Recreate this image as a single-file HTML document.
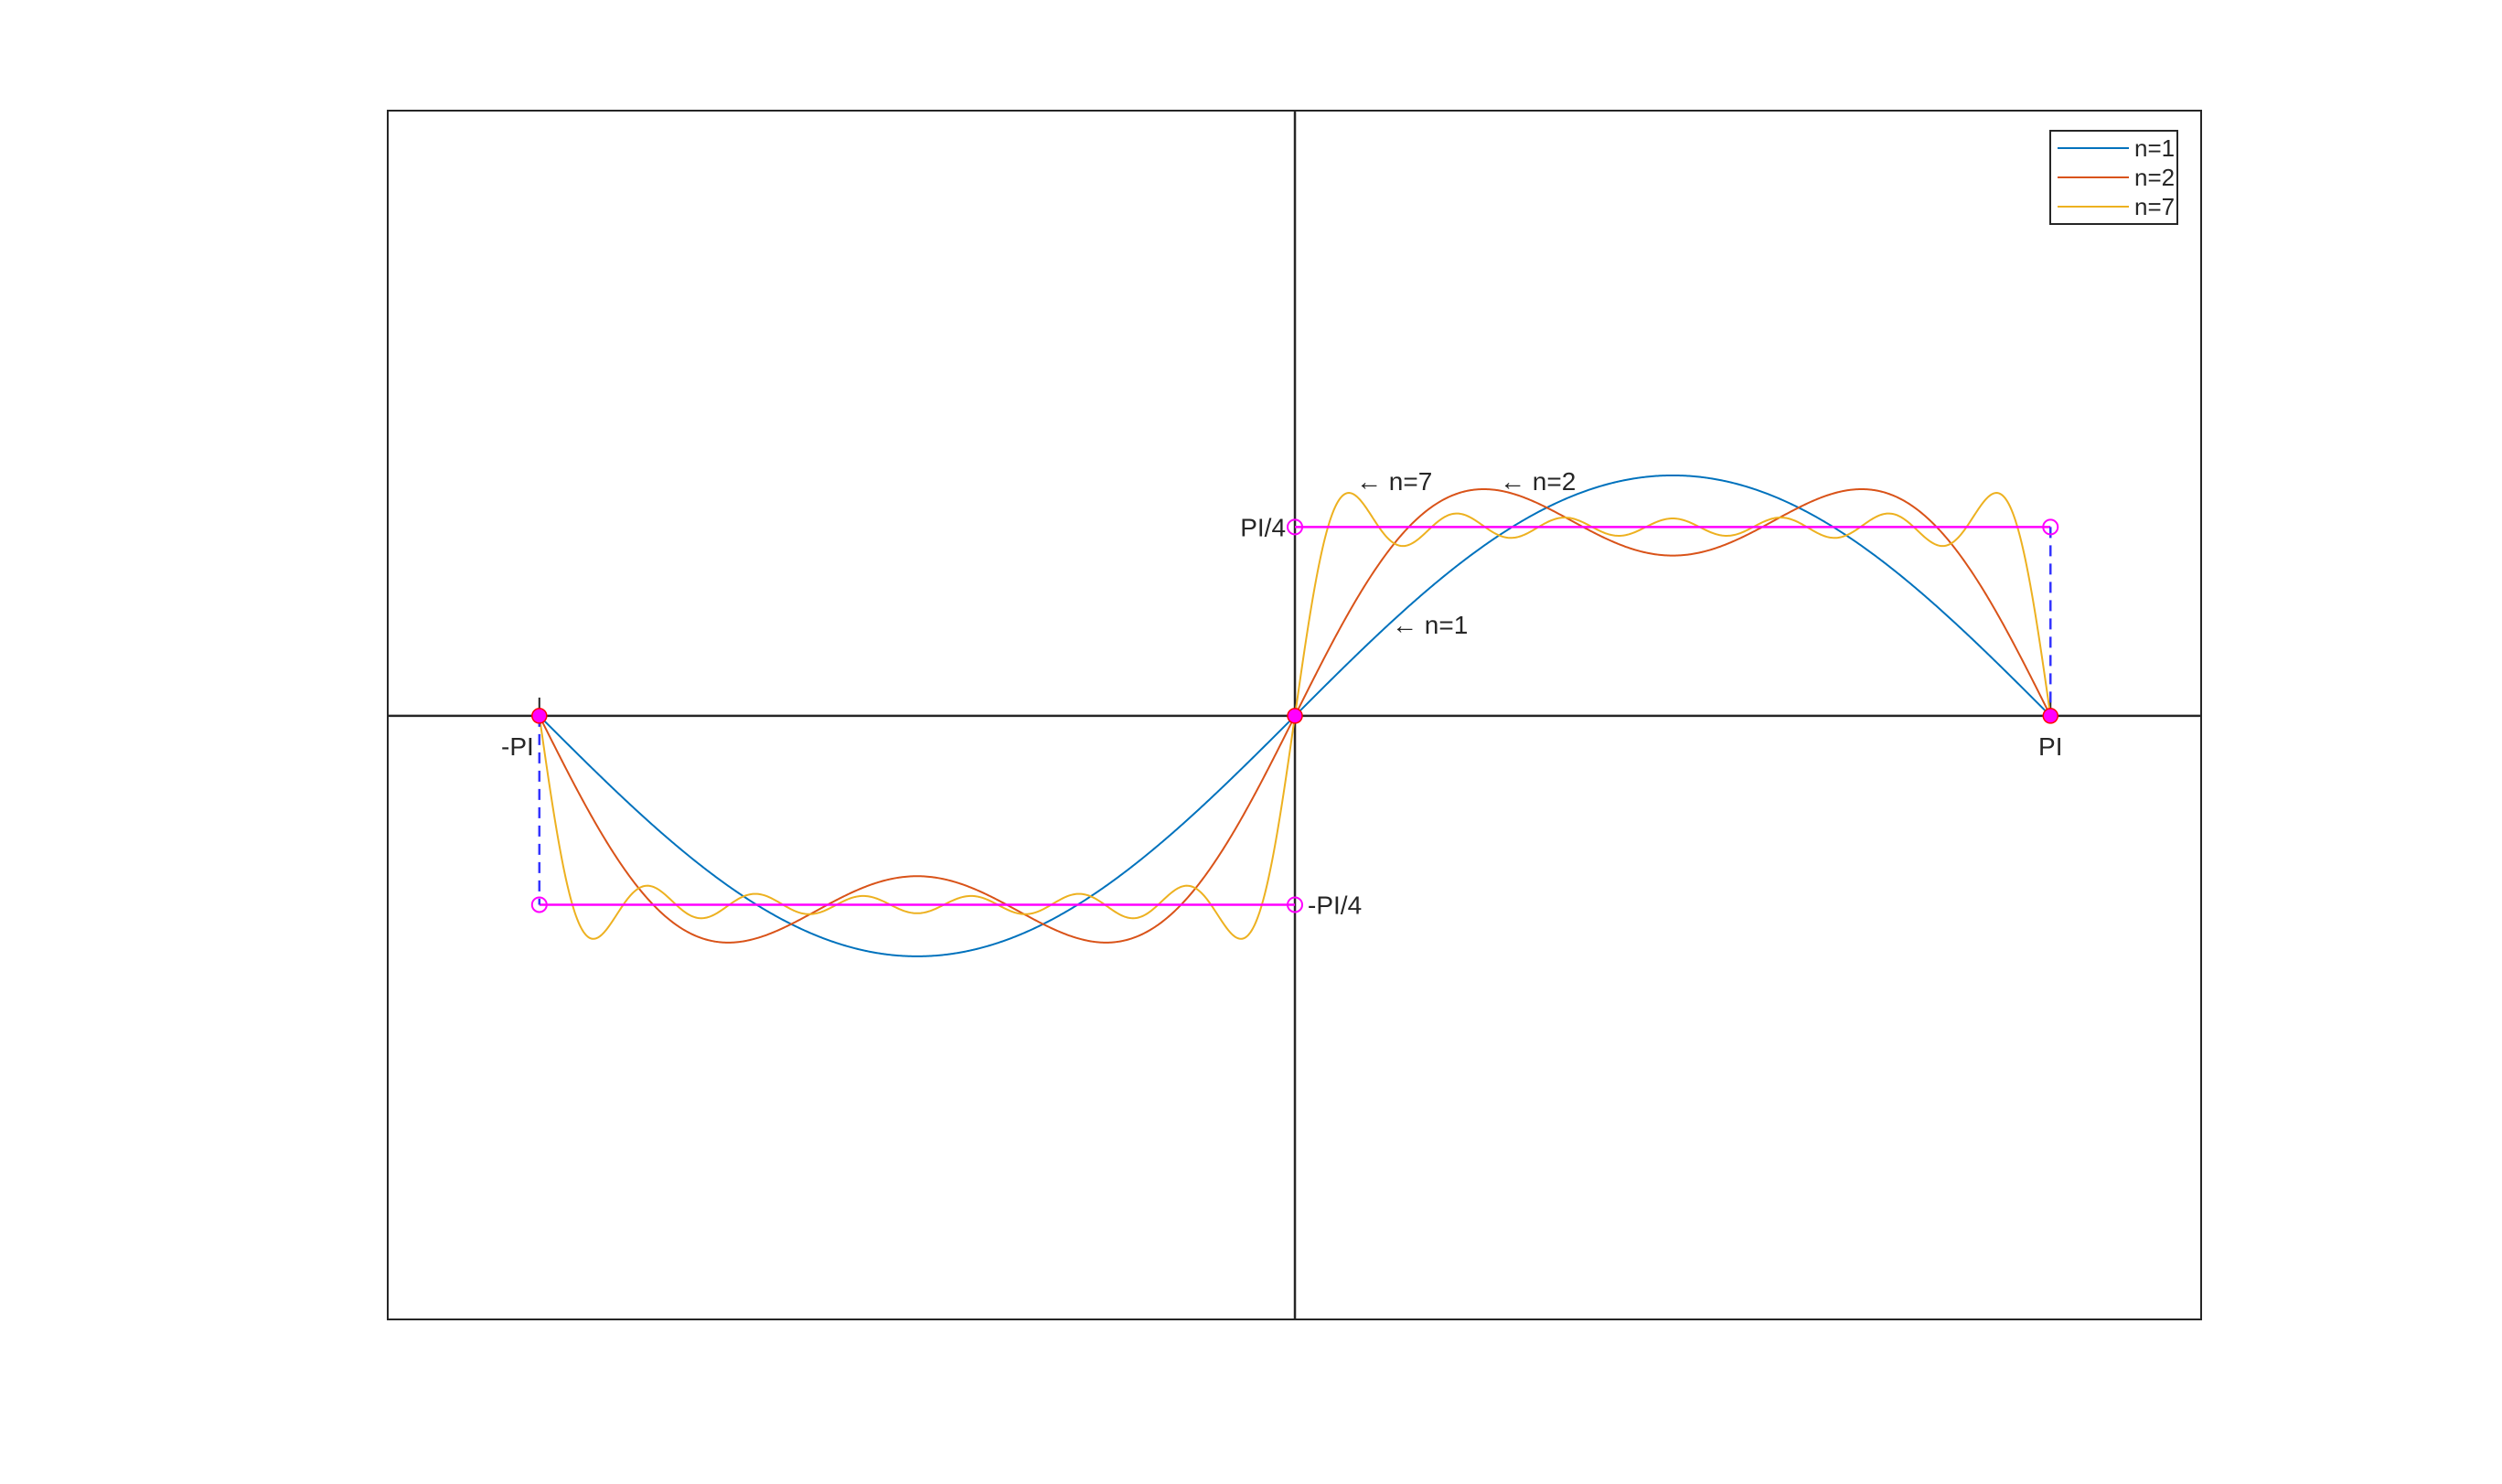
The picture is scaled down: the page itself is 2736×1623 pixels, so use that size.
<!DOCTYPE html>
<html><head><meta charset="utf-8"><style>
html,body{margin:0;padding:0;background:#fff}
svg{display:block}
text{font-family:"Liberation Sans",Arial,sans-serif;fill:#262626}
</style></head><body>
<svg id="chart" width="2736" height="1623" viewBox="0 0 2736 1623" xmlns="http://www.w3.org/2000/svg">
<rect x="424" y="121" width="1983" height="1322" fill="#fff" stroke="#262626" stroke-width="2"/>
<g id="marks"></g>
</svg>
<script>
// Data
const seriesNames = ["n=1","n=2","n=7"];
const harmonics1 = [1];
const coeffs1 = [1];
const harmonics2 = [1,3];
const coeffs2 = [1,1/3];
const harmonics7 = [1,3,5,7,9,11,13];
const coeffs7 = [1,1/3,1/5,1/7,1/9,1/11,1/13];
const xTickLabels = ["-PI","PI"];
const yTickLabels = ["PI/4","-PI/4"];
const levelValue = Math.PI/4;
const xDomain = [-3.772, 3.768];
const yDomain = [-2.51, 2.517];

const X0=424,X1=2407,Y0=121,Y1=1443;
const sx = v => X0 + (v - xDomain[0])/(xDomain[1]-xDomain[0])*(X1-X0);
const sy = v => Y1 - (v - yDomain[0])/(yDomain[1]-yDomain[0])*(Y1-Y0);
const NS="http://www.w3.org/2000/svg";
const g=document.getElementById('marks');
function mk(tag,attrs,parent){const e=document.createElementNS(NS,tag);for(const k in attrs)e.setAttribute(k,attrs[k]);(parent||g).appendChild(e);return e;}

let e;
e=mk('line',{x1:X0,x2:X1,y1:sy(0),y2:sy(0),stroke:'#262626','stroke-width':2.5});


e=mk('line',{x1:sx(0),x2:sx(0),y1:Y0,y2:Y1,stroke:'#262626','stroke-width':2.5});


[-Math.PI,Math.PI].forEach((v,i)=>{
  const t=mk('line',{x1:sx(v),x2:sx(v),y1:sy(0)-20,y2:sy(0),stroke:'#262626','stroke-width':2});
  
  
});

const colors=["#0072BD","#D95319","#EDB120"];
const H=[harmonics1,harmonics2,harmonics7], C=[coeffs1,coeffs2,coeffs7];
H.forEach((h,si)=>{
  let d='';
  const N=1200;
  for(let i=0;i<=N;i++){
    const x=-Math.PI+2*Math.PI*i/N;
    let y=0; h.forEach((k,j)=>{y+=C[si][j]*Math.sin(k*x);});
    d+=(i?'L':'M')+sx(x).toFixed(2)+' '+sy(y).toFixed(2);
  }
  const p=mk('path',{d:d,fill:'none',stroke:colors[si],'stroke-width':2});
  
  
});

e=mk('line',{x1:sx(-Math.PI),x2:sx(0),y1:sy(-levelValue),y2:sy(-levelValue),stroke:'#FF00FF','stroke-width':2.5});


e=mk('line',{x1:sx(0),x2:sx(Math.PI),y1:sy(levelValue),y2:sy(levelValue),stroke:'#FF00FF','stroke-width':2.5});


e=mk('line',{x1:sx(-Math.PI),x2:sx(-Math.PI),y1:sy(0),y2:sy(-levelValue),stroke:'#3333FF','stroke-width':2.5,'stroke-dasharray':'12 8'});


e=mk('line',{x1:sx(Math.PI),x2:sx(Math.PI),y1:sy(levelValue),y2:sy(0),stroke:'#3333FF','stroke-width':2.5,'stroke-dasharray':'12 8'});



[[-Math.PI,-levelValue],[0,-levelValue],[0,levelValue],[Math.PI,levelValue]].forEach((pt,i)=>{
  const c=mk('circle',{cx:sx(pt[0]),cy:sy(pt[1]),r:8,fill:'none',stroke:'#FF00FF','stroke-width':2});
  
  
});
[-Math.PI,0,Math.PI].forEach((v,i)=>{
  const c=mk('circle',{cx:sx(v),cy:sy(0),r:8,fill:'#FF00FF',stroke:'#FF0000','stroke-width':1.5});
  
  
});

function txt(s,x,y,anchor,name){const t=mk('text',{x:x,y:y,'font-size':28,'text-anchor':anchor});t.textContent=s;
  
  return t;}
txt(xTickLabels[0],sx(-Math.PI)-6,sy(0)+43,'end','x-label-neg-pi');
txt(xTickLabels[1],sx(Math.PI),sy(0)+43,'middle','x-label-pi');
txt(yTickLabels[0],sx(0)-10,sy(levelValue)+10,'end','y-label-pi-4');
txt(yTickLabels[1],sx(0)+14,sy(-levelValue)+10,'start','y-label-neg-pi-4');
txt('\u2190 n=7',1483,536,'start','annotation-n7');
txt('\u2190 n=2',1640,536,'start','annotation-n2');
txt('\u2190 n=1',1522,693,'start','annotation-n1');

const lg=mk('g',{});


mk('rect',{x:2242,y:143,width:139,height:102,fill:'#fff',stroke:'#262626','stroke-width':2},lg);
seriesNames.forEach((n,i)=>{
  const y=162+i*32;
  const l=mk('line',{x1:2250,x2:2328,y1:y,y2:y,stroke:colors[i],'stroke-width':2},lg);
  
  
  const t=mk('text',{x:2334,y:y+9,'font-size':26},lg);t.textContent=n;
  
  
});
</script>
</body></html>
